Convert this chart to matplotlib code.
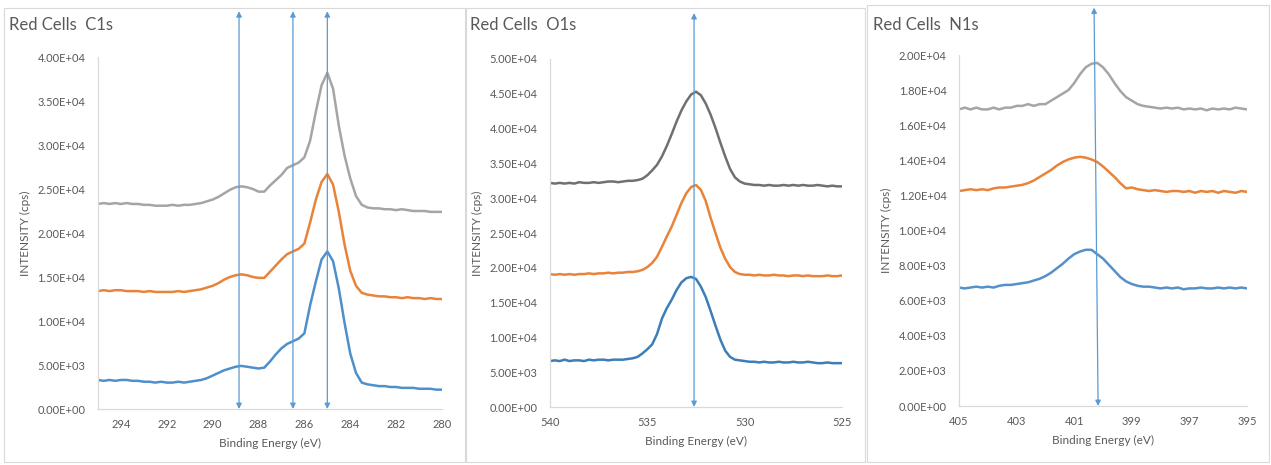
import numpy as np
import matplotlib
matplotlib.use('Agg')
import matplotlib.pyplot as plt
import matplotlib.ticker as plticker
from matplotlib.patches import Rectangle

params = {'font.family'     : ['Lato', 'DejaVu Sans'],
          'axes.labelsize'  : 8.5,
          'xtick.labelsize' : 8,
          'ytick.labelsize' : 8,
          'text.color'      : '#595959',
          'axes.labelcolor' : '#595959',
          'xtick.color'     : '#595959',
          'ytick.color'     : '#595959',
          'lines.solid_joinstyle' : 'round',
          'lines.solid_capstyle'  : 'round'}
plt.rcParams.update(params)

W, H = 1271, 465

# ------------------------------- C1s (intensity in 1e4 cps, 0.25 eV steps 295 -> 280)
c1s_be = np.linspace(295, 280, 61)
c1s_top = [2.33, 2.34, 2.33, 2.34, 2.33, 2.34, 2.33, 2.33, 2.32, 2.32,
           2.31, 2.31, 2.31, 2.32, 2.31, 2.32, 2.32, 2.33, 2.34, 2.36,
           2.38, 2.41, 2.45, 2.49, 2.52, 2.53, 2.52, 2.50, 2.47, 2.47,
           2.54, 2.60, 2.66, 2.74, 2.77, 2.80, 2.86, 3.05, 3.38, 3.68,
           3.82, 3.64, 3.22, 2.88, 2.62, 2.42, 2.32, 2.29, 2.28, 2.28,
           2.27, 2.27, 2.26, 2.27, 2.26, 2.25, 2.25, 2.25, 2.24, 2.24, 2.24]
c1s_mid = [1.34, 1.35, 1.34, 1.35, 1.35, 1.34, 1.34, 1.34, 1.33, 1.34,
           1.33, 1.33, 1.33, 1.33, 1.34, 1.33, 1.34, 1.35, 1.36, 1.38,
           1.40, 1.43, 1.47, 1.50, 1.52, 1.53, 1.52, 1.50, 1.49, 1.49,
           1.56, 1.63, 1.70, 1.76, 1.79, 1.82, 1.88, 2.12, 2.38, 2.58,
           2.67, 2.55, 2.24, 1.87, 1.57, 1.40, 1.32, 1.30, 1.29, 1.28,
           1.28, 1.27, 1.27, 1.26, 1.27, 1.26, 1.26, 1.25, 1.26, 1.25, 1.25]
c1s_low = [0.33, 0.32, 0.33, 0.32, 0.33, 0.33, 0.32, 0.32, 0.31, 0.31,
           0.30, 0.31, 0.30, 0.30, 0.31, 0.30, 0.31, 0.32, 0.33, 0.35,
           0.38, 0.41, 0.44, 0.46, 0.48, 0.49, 0.48, 0.47, 0.46, 0.47,
           0.54, 0.62, 0.69, 0.74, 0.77, 0.80, 0.86, 1.18, 1.45, 1.70,
           1.79, 1.68, 1.37, 0.98, 0.63, 0.41, 0.30, 0.28, 0.27, 0.26,
           0.26, 0.25, 0.25, 0.24, 0.24, 0.24, 0.23, 0.23, 0.23, 0.22, 0.22]
c1s_peaks = [288.85, 286.5, 285.0]

# ------------------------------- O1s (intensity in 1e4 cps, 0.25 eV steps 540 -> 525)
o1s_be = np.linspace(540, 525, 61)
o1s_top = [3.22, 3.21, 3.22, 3.21, 3.22, 3.21, 3.23, 3.22, 3.22, 3.23,
           3.22, 3.23, 3.24, 3.24, 3.23, 3.24, 3.25, 3.25, 3.26, 3.28,
           3.33, 3.40, 3.48, 3.60, 3.75, 3.92, 4.10, 4.26, 4.39, 4.49,
           4.53, 4.48, 4.36, 4.20, 4.01, 3.80, 3.60, 3.42, 3.30, 3.24,
           3.21, 3.20, 3.19, 3.19, 3.18, 3.19, 3.18, 3.18, 3.19, 3.18,
           3.19, 3.18, 3.19, 3.18, 3.18, 3.19, 3.18, 3.17, 3.18, 3.17, 3.17]
o1s_mid = [1.91, 1.90, 1.91, 1.90, 1.91, 1.90, 1.91, 1.91, 1.92, 1.91,
           1.92, 1.92, 1.93, 1.92, 1.93, 1.93, 1.94, 1.94, 1.95, 1.97,
           2.01, 2.07, 2.16, 2.30, 2.45, 2.59, 2.76, 2.93, 3.07, 3.16,
           3.19, 3.12, 2.96, 2.72, 2.50, 2.29, 2.13, 2.01, 1.94, 1.91,
           1.90, 1.90, 1.89, 1.90, 1.89, 1.89, 1.90, 1.89, 1.89, 1.88,
           1.89, 1.89, 1.88, 1.89, 1.88, 1.88, 1.88, 1.89, 1.88, 1.88, 1.89]
o1s_low = [0.66, 0.67, 0.66, 0.68, 0.66, 0.67, 0.67, 0.66, 0.68, 0.67,
           0.68, 0.68, 0.67, 0.68, 0.68, 0.68, 0.69, 0.70, 0.72, 0.77,
           0.83, 0.90, 1.05, 1.27, 1.42, 1.54, 1.68, 1.79, 1.85, 1.87,
           1.84, 1.73, 1.58, 1.38, 1.17, 0.97, 0.81, 0.72, 0.68, 0.67,
           0.66, 0.65, 0.65, 0.64, 0.65, 0.64, 0.64, 0.65, 0.64, 0.64,
           0.65, 0.64, 0.64, 0.65, 0.64, 0.63, 0.63, 0.64, 0.63, 0.63, 0.63]
o1s_peak = 532.6

# ------------------------------- N1s (intensity in 1e3 cps, 0.2 eV steps 405 -> 395)
n1s_be = np.linspace(405, 395, 51)
n1s_top = [16.9, 17.0, 16.9, 17.0, 16.9, 16.9, 17.0, 16.9, 17.0, 17.0,
           17.1, 17.1, 17.2, 17.1, 17.2, 17.2, 17.4, 17.6, 17.8, 18.0,
           18.4, 18.9, 19.3, 19.5, 19.55, 19.3, 18.9, 18.4, 17.95, 17.6,
           17.4, 17.2, 17.1, 17.05, 17.0, 16.95, 17.0, 16.95, 17.0, 16.9,
           16.95, 16.9, 16.95, 16.85, 16.95, 16.9, 16.95, 16.9, 17.0, 16.95, 16.9]
n1s_mid = [12.25, 12.3, 12.35, 12.3, 12.35, 12.3, 12.4, 12.45, 12.45, 12.5,
           12.55, 12.6, 12.7, 12.85, 13.05, 13.25, 13.45, 13.7, 13.9, 14.05,
           14.15, 14.2, 14.15, 14.05, 13.9, 13.65, 13.35, 13.05, 12.7, 12.4,
           12.45, 12.35, 12.3, 12.25, 12.3, 12.25, 12.2, 12.25, 12.25, 12.2,
           12.25, 12.15, 12.25, 12.2, 12.25, 12.15, 12.25, 12.2, 12.15, 12.25, 12.2]
n1s_low = [6.75, 6.7, 6.75, 6.8, 6.75, 6.8, 6.75, 6.85, 6.9, 6.9,
           6.95, 7.0, 7.05, 7.15, 7.25, 7.4, 7.6, 7.85, 8.1, 8.4,
           8.65, 8.8, 8.9, 8.9, 8.65, 8.4, 8.05, 7.7, 7.35, 7.1,
           6.95, 6.85, 6.8, 6.8, 6.75, 6.7, 6.75, 6.7, 6.75, 6.65,
           6.7, 6.7, 6.75, 6.7, 6.7, 6.75, 6.7, 6.75, 6.7, 6.75, 6.7]
n1s_arrow = [400.31, 400.17]   # top, bottom (line is slightly tilted)
# -------------------------------

arrow_col = '#5b9bd5'


def px_axes(x0, x1, y0, y1):
    # pixel box (top-left origin) -> figure axes
    return fig.add_axes([x0 / W, 1 - y1 / H, (x1 - x0) / W, (y1 - y0) / H])


def chart_box(x0, x1, y0, y1):
    fig.add_artist(Rectangle((x0 / W, 1 - y1 / H), (x1 - x0) / W, (y1 - y0) / H,
                             transform=fig.transFigure, fill=False,
                             edgecolor='#d9d9d9', linewidth=0.8))


def style(ax, xlim, xticks, ylim, ystep, title, tx):
    ax.set_xlim(xlim)
    ax.set_ylim(ylim)
    ax.set_xticks(xticks)
    ax.yaxis.set_major_locator(plticker.MultipleLocator(ystep))
    ax.yaxis.set_major_formatter(plticker.FuncFormatter(lambda v, p: '%.2E' % v))
    for s in ['top', 'right']:
        ax.spines[s].set_visible(False)
    for s in ['left', 'bottom']:
        ax.spines[s].set_color('#d9d9d9')
        ax.spines[s].set_linewidth(0.9)
    ax.tick_params(length=0)
    ax.tick_params(axis='y', pad=9)
    ax.tick_params(axis='x', pad=7)
    ax.set_xlabel('Binding Energy (eV)', labelpad=6)
    ax.set_ylabel('INTENSITY (cps)', labelpad=5)
    ax.patch.set_alpha(0)
    fig.text(tx / W, 1 - 25 / H, title, fontsize=12, color='#595959', va='center')


def arrow(ax, x_top, x_bot, y_top):
    ax.annotate('', xy=(x_top, y_top), xytext=(x_bot, 0), annotation_clip=False,
                arrowprops=dict(arrowstyle='<|-|>', color=arrow_col, lw=0.9,
                                mutation_scale=8, shrinkA=0, shrinkB=0))


fig = plt.figure(figsize=(W / 100, H / 100), dpi=100)

chart_box(4, 465, 8, 462)
chart_box(466, 865, 8, 462)
chart_box(867, 1269, 5, 462)

# -- C1s
ax1 = px_axes(98, 442, 57, 409)
ax1.plot(c1s_be, np.array(c1s_top) * 1e4, color='#a5a5a5', lw=1.8)
ax1.plot(c1s_be, np.array(c1s_mid) * 1e4, color='#e8833a', lw=1.8)
ax1.plot(c1s_be, np.array(c1s_low) * 1e4, color='#4f8fca', lw=1.8)
for e in c1s_peaks:
    arrow(ax1, e, e, 4.52e4)
style(ax1, [295, 280], np.arange(294, 279, -2), [0, 4.0e4], 5000, 'Red Cells  C1s', 9)

# -- O1s
ax2 = px_axes(550, 842, 59, 407)
ax2.plot(o1s_be, np.array(o1s_top) * 1e4, color='#707070', lw=1.8)
ax2.plot(o1s_be, np.array(o1s_mid) * 1e4, color='#e8833a', lw=1.8)
ax2.plot(o1s_be, np.array(o1s_low) * 1e4, color='#3c7eb5', lw=1.8)
arrow(ax2, o1s_peak, o1s_peak, 5.66e4)
style(ax2, [540, 525], [540, 535, 530, 525], [0, 5.0e4], 5000, 'Red Cells  O1s', 470)

# -- N1s
ax3 = px_axes(959, 1247, 55, 406)
ax3.plot(n1s_be, np.array(n1s_top) * 1e3, color='#a5a5a5', lw=1.8)
ax3.plot(n1s_be, np.array(n1s_mid) * 1e3, color='#e8833a', lw=1.8)
ax3.plot(n1s_be, np.array(n1s_low) * 1e3, color='#5591c8', lw=1.8)
arrow(ax3, n1s_arrow[0], n1s_arrow[1], 2.27e4)
style(ax3, [405, 395], np.arange(405, 394, -2), [0, 2.0e4], 2000, 'Red Cells  N1s', 873)

plt.savefig('out.png', dpi=100)
